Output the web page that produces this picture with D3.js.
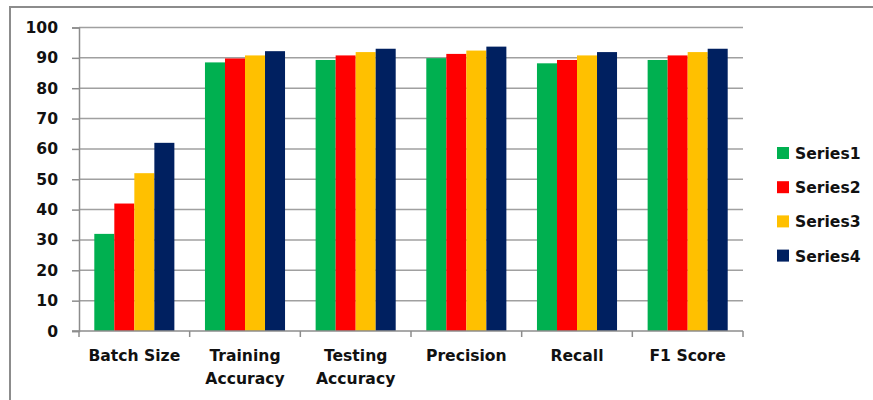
<!DOCTYPE html>
<html>
<head>
<meta charset="utf-8">
<script src="https://cdn.jsdelivr.net/npm/d3@7/dist/d3.min.js"></script>
<style>
  html, body { margin: 0; padding: 0; background: #fff; }
  svg { display: block; }
  text { font-family: "DejaVu Sans", Verdana, sans-serif; font-weight: bold; fill: #111; }
</style>
</head>
<body>
<svg id="chart" width="873" height="400"></svg>
<script>
// Metric categories along the x axis
const categories = [["Batch Size"], ["Training", "Accuracy"], ["Testing", "Accuracy"], ["Precision"], ["Recall"], ["F1 Score"]];
const seriesNames = ["Series1", "Series2", "Series3", "Series4"];
const series1 = [32, 88.5, 89.3, 89.9, 88.2, 89.3];
const series2 = [42, 89.8, 90.8, 91.3, 89.3, 90.8];
const series3 = [52, 90.8, 91.9, 92.4, 90.8, 91.9];
const series4 = [62, 92.2, 93.0, 93.7, 91.9, 93.0];
const yTicks = [0, 10, 20, 30, 40, 50, 60, 70, 80, 90, 100];
const colors = ["#00B050", "#FF0000", "#FFC000", "#002060"];

const allSeries = [series1, series2, series3, series4];
const svg = d3.select("#chart");
const fontSize = 15.6;

// Outer frame of the chart area
svg.append("rect")
  .attr("x", 10).attr("y", 7)
  .attr("width", 900).attr("height", 420)
  .attr("fill", "none").attr("stroke", "#8c8c8c").attr("stroke-width", 2);

const plotLeft = 79, plotRight = 743, plotTop = 27.5, plotBottom = 331;

const x = d3.scaleBand()
  .domain(d3.range(categories.length))
  .range([plotLeft, plotRight])
  .paddingInner(0).paddingOuter(0);

const inner = d3.scaleBand()
  .domain(d3.range(seriesNames.length))
  .range([15.3, x.bandwidth() - 15.3]);

const y = d3.scaleLinear().domain([0, 100]).range([plotBottom, plotTop]);

// Horizontal gridlines
svg.append("g")
  .selectAll("line")
  .data(yTicks.filter(t => t > 0))
  .join("line")
  .attr("x1", plotLeft).attr("x2", plotRight)
  .attr("y1", d => y(d)).attr("y2", d => y(d))
  .attr("stroke", "#a0a0a0").attr("stroke-width", 1.5);

// Bars
const groups = svg.append("g")
  .selectAll("g")
  .data(categories.map((c, i) => i))
  .join("g")
  .attr("transform", i => `translate(${x(i)},0)`);

groups.selectAll("rect")
  .data(i => allSeries.map((s, k) => ({ k, v: s[i] })))
  .join("rect")
  .attr("x", d => inner(d.k))
  .attr("width", inner.bandwidth())
  .attr("y", d => y(d.v))
  .attr("height", d => y(0) - y(d.v))
  .attr("fill", d => colors[d.k]);

// Y axis
const yAxis = d3.axisLeft(y).tickValues(yTicks).tickSize(7).tickPadding(14);
const gy = svg.append("g").attr("transform", `translate(${plotLeft},0)`).call(yAxis);
gy.attr("font-size", null).attr("font-family", null);
gy.select(".domain").attr("stroke", "#8c8c8c").attr("stroke-width", 1.5);
gy.selectAll(".tick line").attr("stroke", "#8c8c8c").attr("stroke-width", 1.5);
gy.selectAll(".tick text")
  .style("font-size", fontSize + "px")
  .attr("fill", "#111");

// X axis baseline with category boundary ticks
const gx = svg.append("g");
gx.append("line")
  .attr("x1", plotLeft - 7).attr("x2", plotRight)
  .attr("y1", plotBottom).attr("y2", plotBottom)
  .attr("stroke", "#8c8c8c").attr("stroke-width", 1.5);
gx.selectAll("line.tk")
  .data(d3.range(categories.length + 1))
  .join("line")
  .attr("class", "tk")
  .attr("x1", i => plotLeft + i * x.step()).attr("x2", i => plotLeft + i * x.step())
  .attr("y1", plotBottom).attr("y2", plotBottom + 6)
  .attr("stroke", "#8c8c8c").attr("stroke-width", 1.5);

gx.selectAll("text")
  .data(categories.map((c, i) => ({ c, i })))
  .join("text")
  .attr("text-anchor", "middle")
  .style("font-size", fontSize + "px")
  .attr("x", d => x(d.i) + x.bandwidth() / 2)
  .attr("y", 361)
  .selectAll("tspan")
  .data(d => d.c)
  .join("tspan")
  .attr("x", function () { return d3.select(this.parentNode).attr("x"); })
  .attr("dy", (d, j) => j === 0 ? 0 : 23)
  .text(d => d);

// Legend
const legend = svg.append("g");
const items = legend.selectAll("g")
  .data(seriesNames.map((n, k) => ({ n, k })))
  .join("g")
  .attr("transform", d => `translate(777, ${153 + d.k * 34.2})`);
items.append("rect")
  .attr("x", 0).attr("y", -6)
  .attr("width", 12).attr("height", 12)
  .attr("fill", d => colors[d.k]);
items.append("text")
  .attr("x", 18).attr("y", 6)
  .style("font-size", fontSize + "px")
  .text(d => d.n);
</script>
</body>
</html>
